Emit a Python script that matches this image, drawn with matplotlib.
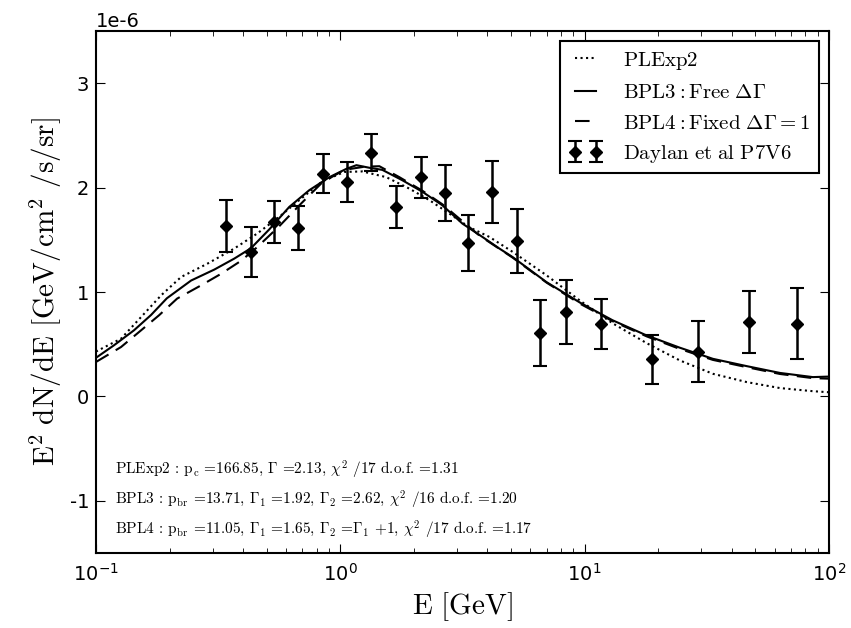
import numpy as np
import matplotlib
matplotlib.use("Agg")
import matplotlib.pyplot as plt
from matplotlib.font_manager import FontProperties

# Measured spectrum (E in GeV, E^2 dN/dE in units of 1e-6 GeV/cm^2/s/sr)
data_E = [0.34, 0.43, 0.537, 0.672, 0.846, 1.07, 1.34, 1.69, 2.14, 2.69,
          3.32, 4.19, 5.28, 6.58, 8.36, 11.7, 18.8, 29.2, 47.1, 73.8]
data_flux = [1.63, 1.38, 1.67, 1.61, 2.135, 2.055, 2.336, 1.815, 2.10, 1.95,
             1.47, 1.96, 1.49, 0.607, 0.808, 0.69, 0.358, 0.43, 0.712, 0.697]
data_err = [0.25, 0.24, 0.20, 0.21, 0.19, 0.195, 0.18, 0.205, 0.195, 0.265,
            0.27, 0.295, 0.31, 0.315, 0.31, 0.24, 0.235, 0.296, 0.296, 0.34]

# Best-fit model spectra
plexp2_E = [0.1, 0.1266, 0.1529, 0.1847, 0.2230, 0.2850, 0.3678, 0.4568,
            0.5623, 0.6792, 0.8438, 1.0385, 1.231, 1.543, 1.918, 2.316,
            3.379, 4.081, 5.070, 6.986, 9.54, 13.03, 17.95, 24.51, 33.46,
            46.12, 62.99, 86.0, 100.0]
plexp2_flux = [0.43, 0.553, 0.76, 0.968, 1.144, 1.27, 1.416, 1.56,
               1.72, 1.88, 2.06, 2.15, 2.155, 2.10, 1.99, 1.88,
               1.62, 1.527, 1.385, 1.16, 0.92, 0.70, 0.51, 0.345, 0.217,
               0.137, 0.08, 0.05, 0.04]

bpl3_E = [0.1, 0.1185, 0.143, 0.168, 0.195, 0.245, 0.305, 0.368, 0.431,
          0.512, 0.618, 0.746, 0.902, 1.059, 1.164, 1.316, 1.486, 1.796,
          2.168, 2.619, 3.162, 3.82, 4.48, 5.07, 6.98, 9.55, 13.0, 17.9,
          24.5, 33.5, 46.1, 63.0, 85.9, 100.0]
bpl3_flux = [0.37, 0.49, 0.633, 0.78, 0.94, 1.11, 1.215, 1.32, 1.42,
             1.60, 1.815, 1.975, 2.10, 2.18, 2.215, 2.19, 2.17, 2.07,
             1.96, 1.83, 1.655, 1.527, 1.416, 1.335, 1.095, 0.90, 0.73, 0.585,
             0.467, 0.36, 0.29, 0.225, 0.185, 0.19]

bpl4_E = [0.1, 0.1266, 0.1529, 0.1811, 0.2148, 0.2693, 0.3253, 0.3929,
          0.4568, 0.5623, 0.6792, 0.8438, 1.0385, 1.254, 1.445, 1.745,
          2.168, 2.618, 3.713, 5.070, 6.986, 9.54, 13.03, 17.95, 24.51,
          33.46, 46.12, 62.99, 86.0, 100.0]
bpl4_flux = [0.33, 0.473, 0.633, 0.777, 0.937, 1.064, 1.175, 1.30,
             1.43, 1.63, 1.83, 2.05, 2.17, 2.20, 2.205, 2.10,
             1.97, 1.84, 1.54, 1.33, 1.09, 0.89, 0.72, 0.575, 0.455,
             0.35, 0.28, 0.215, 0.175, 0.17]

fit_lines = [
    r"PLExp2 : p$_\mathrm{c}$ =166.85, $\Gamma$ =2.13, $\chi^2$ /17 d.o.f. =1.31",
    r"BPL3 : p$_\mathrm{br}$ =13.71, $\Gamma_1$ =1.92, $\Gamma_2$ =2.62, $\chi^2$ /16 d.o.f. =1.20",
    r"BPL4 : p$_\mathrm{br}$ =11.05, $\Gamma_1$ =1.65, $\Gamma_2$ =$\Gamma_1$ +1, $\chi^2$ /17 d.o.f. =1.17",
]

scale = 1e-6

plt.rcParams.update({
    "xtick.direction": "in",
    "ytick.direction": "in",
    "xtick.top": True,
    "ytick.right": True,
    "xtick.major.size": 6.5,
    "ytick.major.size": 6.5,
    "xtick.minor.size": 3.5,
    "ytick.minor.size": 3.5,
    "xtick.major.pad": 7,
    "ytick.major.pad": 5,
    "xtick.labelsize": 14,
    "ytick.labelsize": 14,
    "axes.linewidth": 1.5,
    "axes.formatter.use_mathtext": False,
    "axes.unicode_minus": False,
})

fig = plt.figure(figsize=(8.51, 6.28), dpi=100)
ax = fig.add_axes([0.1128, 0.1194, 0.8613, 0.8312])

ax.plot(plexp2_E, np.array(plexp2_flux) * scale, color="k", ls=":", lw=1.5,
        label=r"$\mathrm{PLExp2}$")
ax.plot(bpl3_E, np.array(bpl3_flux) * scale, color="k", ls="-", lw=1.5,
        label=r"$\mathrm{BPL3: Free}\ \Delta\Gamma$")
ax.plot(bpl4_E, np.array(bpl4_flux) * scale, color="k", ls=(0, (7, 4)), lw=1.5,
        label=r"$\mathrm{BPL4: Fixed}\ \Delta\Gamma=1$")
ax.errorbar(data_E, np.array(data_flux) * scale, yerr=np.array(data_err) * scale,
            fmt="D", color="k", ms=6, elinewidth=1.8, capsize=5, capthick=1.5,
            label=r"$\mathrm{Daylan\ et\ al\ P7V6}$")

ax.set_xscale("log")
ax.set_xlim(0.1, 100)
ax.set_ylim(-1.5e-6, 3.5e-6)
ax.set_yticks(np.array([-1, 0, 1, 2, 3]) * scale)

ax.set_xlabel(r"$\mathrm{E\ [GeV]}$", fontsize=21, math_fontfamily="cm", labelpad=4)
ax.set_ylabel(r"$\mathrm{E^{2}\ dN/dE\ [GeV/cm^{2}\ /s/sr]}$", fontsize=21,
              math_fontfamily="cm", labelpad=4)

for i, line in enumerate(fit_lines):
    ax.text(0.026, 0.160 - 0.058 * i, line, transform=ax.transAxes,
            fontsize=11, family="cmr10", math_fontfamily="cm",
            va="center", ha="left")

leg = ax.legend(loc="upper right", numpoints=2, handlelength=1.6,
                handletextpad=1.0, fancybox=False, framealpha=1,
                prop=FontProperties(size=15, math_fontfamily="cm"))
leg.get_frame().set_edgecolor("k")
leg.get_frame().set_linewidth(1.5)

ax.yaxis.get_offset_text().set_fontsize(14)

fig.savefig("out.png", dpi=100)
